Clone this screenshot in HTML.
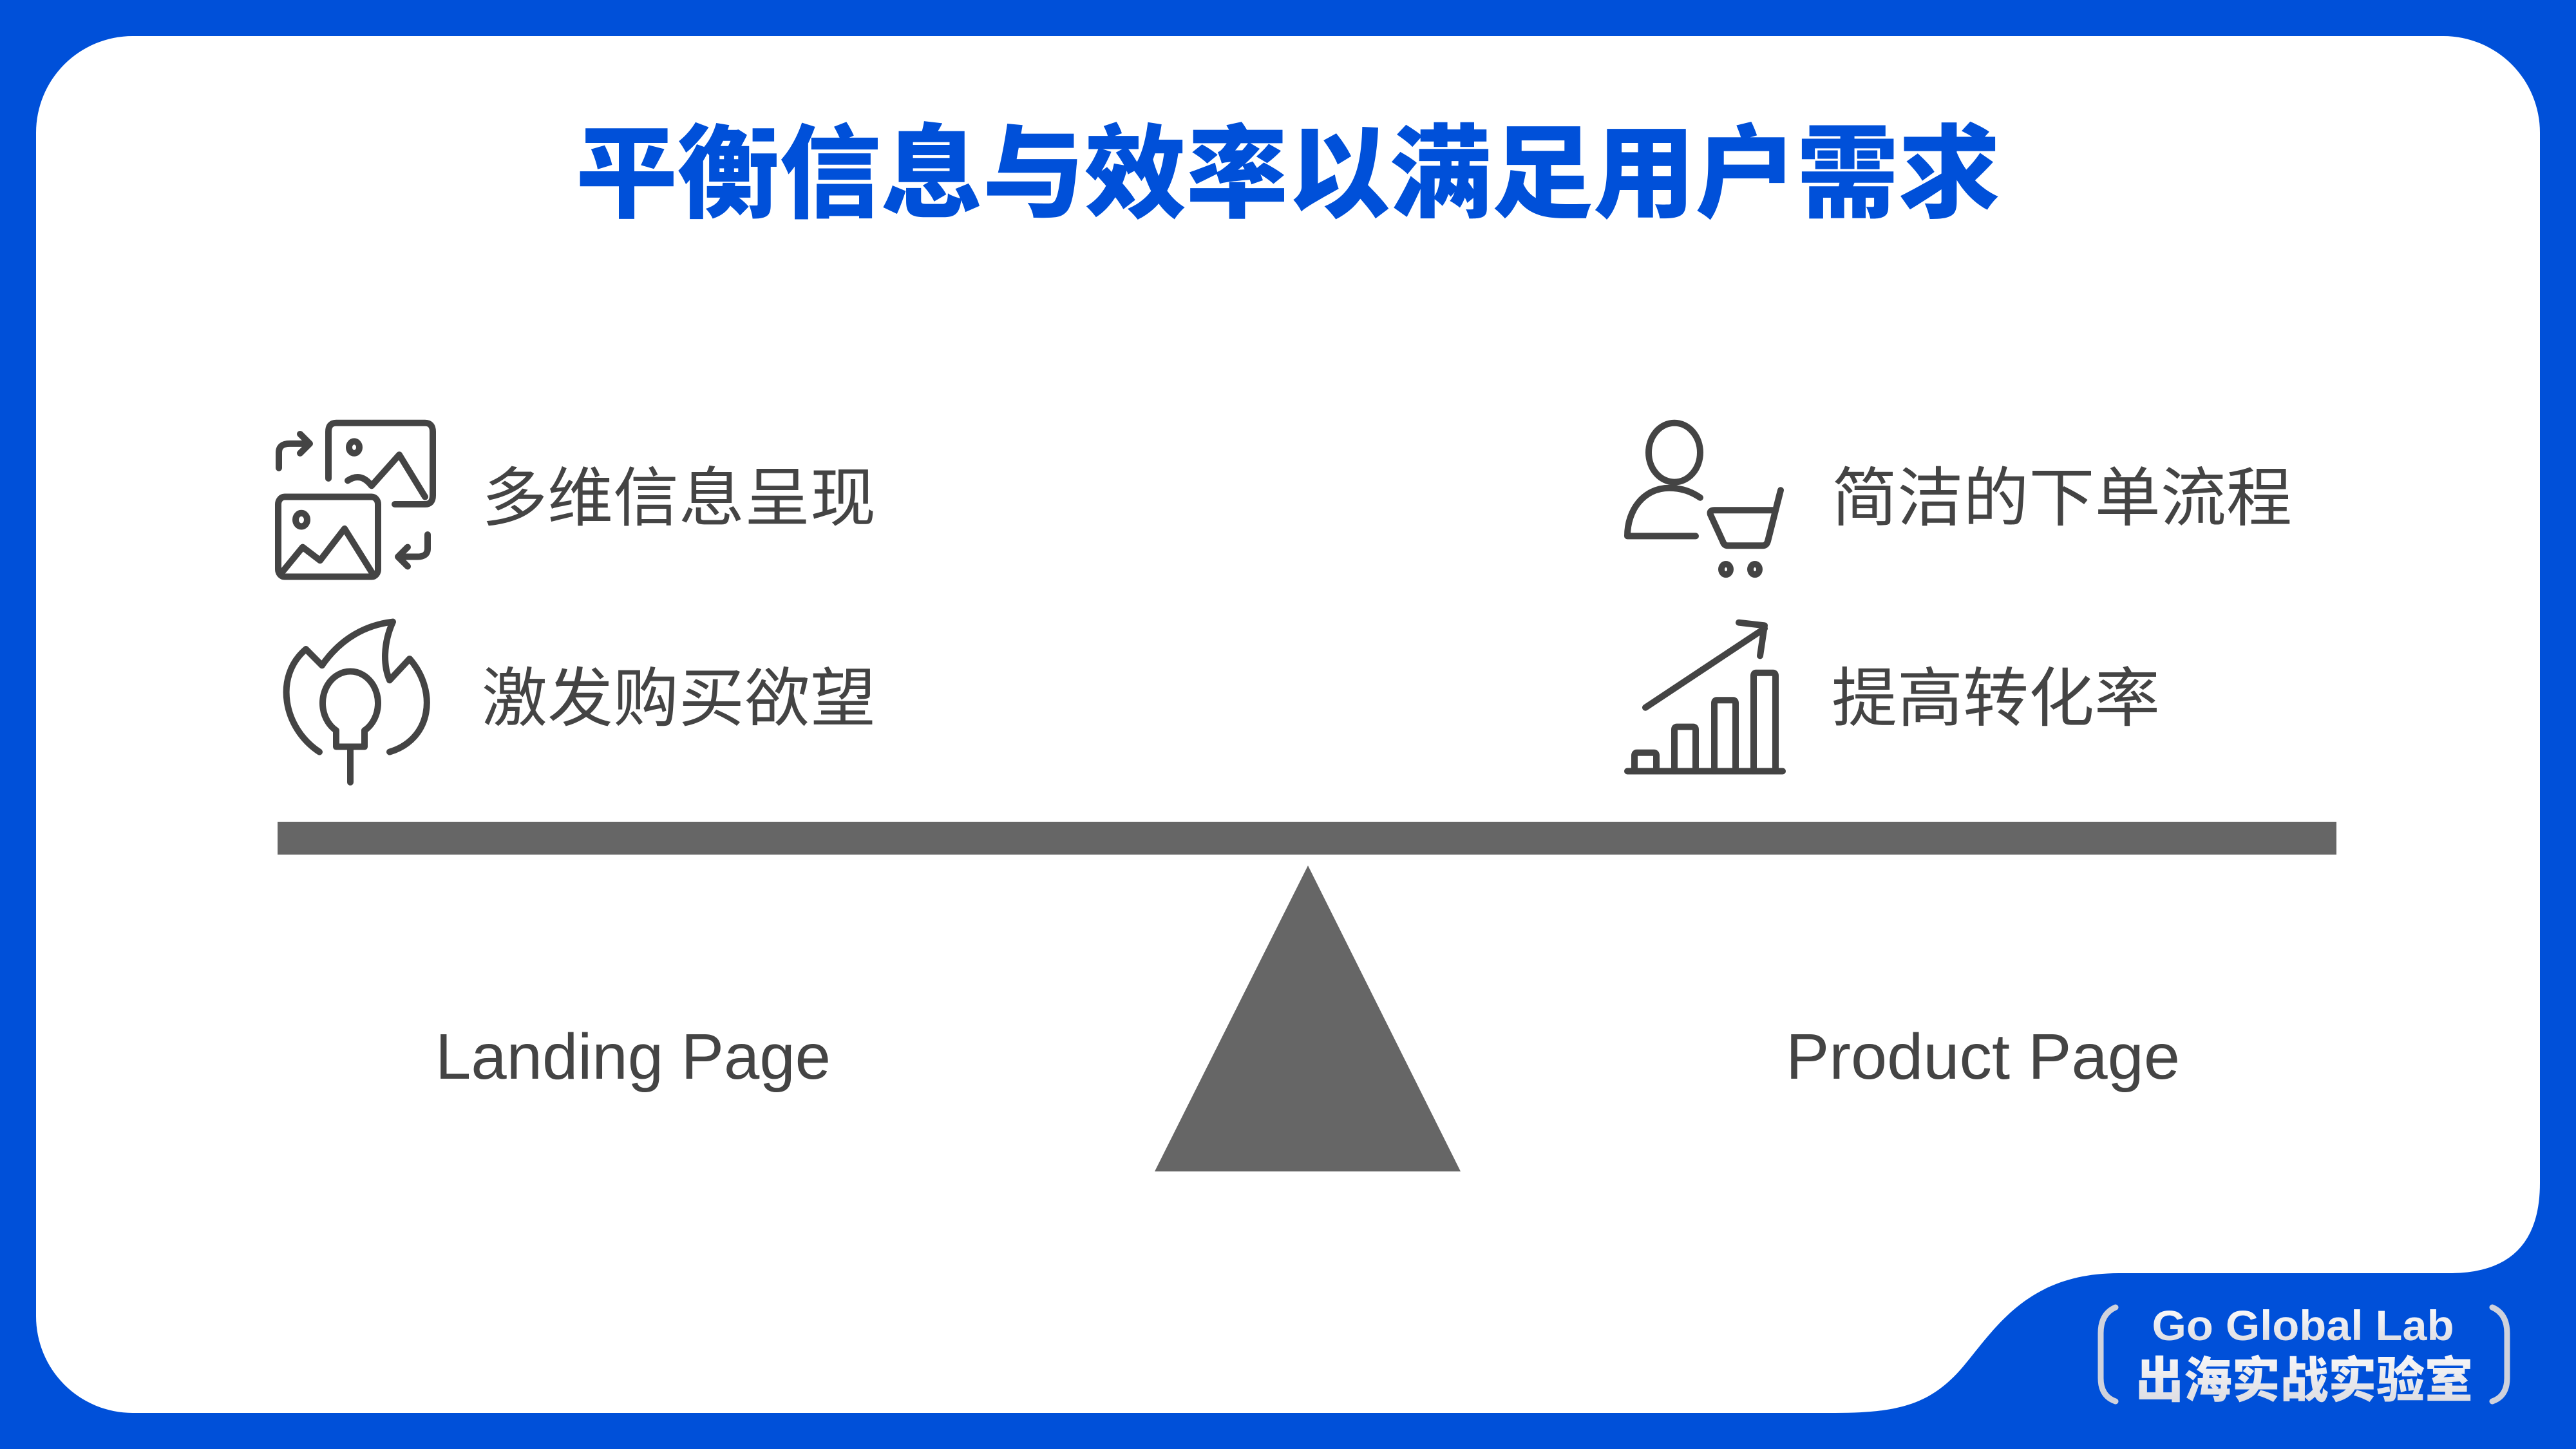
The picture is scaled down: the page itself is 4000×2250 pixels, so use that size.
<!DOCTYPE html>
<html><head><meta charset="utf-8"><style>html,body{margin:0;padding:0;background:#0050d9;}svg{display:block}</style></head>
<body>
<svg width="4000" height="2250" viewBox="0 0 4000 2250" xmlns="http://www.w3.org/2000/svg">
<defs>
<linearGradient id="lg" x1="0" y1="0" x2="0" y2="1"><stop offset="0" stop-color="#ffffff"/><stop offset="1" stop-color="#d8d8de"/></linearGradient>
</defs>
<rect x="0" y="0" width="4000" height="2250" fill="#0050d9"/>
<rect x="56" y="56" width="3888" height="2138" rx="150" ry="150" fill="#ffffff"/>
<path d="M2850 2194 C2950 2194 3000 2180 3050 2120 C3100 2060 3150 1977 3290 1977 L3804 1977 Q3944 1977 3944 1837 L3944 2250 L2850 2250 Z" fill="#0050d9"/>

<text x="2000" y="325" text-anchor="middle" font-family="Noto Sans CJK SC, sans-serif" font-weight="900" font-size="158" fill="#0050d9" textLength="2212" lengthAdjust="spacingAndGlyphs">平衡信息与效率以满足用户需求</text>

<g font-family="Liberation Sans, Noto Sans CJK SC, sans-serif" font-size="100" fill="#444">
<text x="748" y="808" textLength="612" lengthAdjust="spacingAndGlyphs">多维信息呈现</text>
<text x="748" y="1119" textLength="612" lengthAdjust="spacingAndGlyphs">激发购买欲望</text>
<text x="2844" y="808" textLength="715" lengthAdjust="spacingAndGlyphs">简洁的下单流程</text>
<text x="2844" y="1119" textLength="510" lengthAdjust="spacingAndGlyphs">提高转化率</text>
</g>

<g font-family="Liberation Sans, sans-serif" font-size="100" fill="#444">
<text x="676" y="1675" textLength="614" lengthAdjust="spacingAndGlyphs">Landing Page</text>
<text x="2773" y="1675" textLength="612" lengthAdjust="spacingAndGlyphs">Product Page</text>
</g>

<rect x="431" y="1276" width="3197" height="51" fill="#666"/>
<polygon points="2031,1344 2268,1819 1793,1819" fill="#666"/>

<g transform="translate(0,620) scale(1,1.148) translate(0,-620)">
<g fill="none" stroke="#444" stroke-width="10" stroke-linecap="round" stroke-linejoin="round" vector-effect="non-scaling-stroke">
<path vector-effect="non-scaling-stroke" d="M510 727 L510 664 Q510 652 522 652 L660 652 Q672 652 672 664 L672 750 Q672 762 660 762 L613 762"/>
<circle vector-effect="non-scaling-stroke" cx="550" cy="685" r="8"/>
<path vector-effect="non-scaling-stroke" d="M540 730 Q560 718 577 737 L620 695 L660 752"/>
<rect vector-effect="non-scaling-stroke" x="432" y="752" width="155" height="108" rx="10"/>
<circle vector-effect="non-scaling-stroke" cx="468" cy="783" r="9"/>
<path vector-effect="non-scaling-stroke" d="M437 855 L470 820 L497 838 L535 795 L578 855"/>
<path vector-effect="non-scaling-stroke" d="M433 713 L433 692 Q433 680 450 680 L480 680 M466 667 L481 680 L466 693"/>
<path vector-effect="non-scaling-stroke" d="M664 803 L664 822 Q664 833 648 833 L618 833 M633 820 L618 833 L633 846"/>
<path vector-effect="non-scaling-stroke" d="M496 1097 C440 1065 425 995 475 958 L500 980 C530 942 570 925 610 921 C595 950 595 980 605 1000 L636 971 C680 1015 670 1080 605 1097"/>
<path vector-effect="non-scaling-stroke" d="M522 1090 L522 1068 A43 43 0 1 1 566 1068 L566 1090 Z"/>
<path vector-effect="non-scaling-stroke" d="M544 1093 L544 1138"/>
<circle vector-effect="non-scaling-stroke" cx="2600" cy="692" r="40"/>
<path vector-effect="non-scaling-stroke" d="M2640 753 C2625 744 2608 740 2592 740 C2552 740 2527 770 2527 805 L2633 805"/>
<path vector-effect="non-scaling-stroke" d="M2765 743 L2745 812 Q2743 818 2737 818 L2683 818 Q2677 818 2675 812 L2656 776 Q2654 770 2662 770 L2755 770"/>
<circle vector-effect="non-scaling-stroke" cx="2680" cy="850" r="7"/>
<circle vector-effect="non-scaling-stroke" cx="2725" cy="850" r="7"/>
<path vector-effect="non-scaling-stroke" d="M2527 1123 L2768 1123"/>
<path vector-effect="non-scaling-stroke" d="M2538 1123 L2538 1102 Q2538 1098 2542 1098 L2568 1098 Q2572 1098 2572 1102 L2572 1123"/>
<path vector-effect="non-scaling-stroke" d="M2600 1123 L2600 1067 Q2600 1063 2604 1063 L2629 1063 Q2633 1063 2633 1067 L2633 1123"/>
<path vector-effect="non-scaling-stroke" d="M2662 1123 L2662 1031 Q2662 1027 2666 1027 L2691 1027 Q2695 1027 2695 1031 L2695 1123"/>
<path vector-effect="non-scaling-stroke" d="M2723 1123 L2723 994 Q2723 990 2727 990 L2753 990 Q2757 990 2757 994 L2757 1123"/>
<path vector-effect="non-scaling-stroke" d="M2555 1037 L2740 930 M2700 922 L2740 926 L2733 967"/>
</g>
</g>

<g fill="none" stroke="#cfd2dc" stroke-width="9" stroke-linecap="round">
<path d="M3285 2030 Q3262 2040 3262 2070 L3262 2140 Q3262 2168 3285 2176"/>
<path d="M3870 2030 Q3893 2040 3893 2070 L3893 2140 Q3893 2168 3870 2176"/>
</g>
<text x="3576" y="2081" text-anchor="middle" font-family="Liberation Sans, sans-serif" font-weight="bold" font-size="66" fill="url(#lg)" textLength="469" lengthAdjust="spacingAndGlyphs">Go Global Lab</text>
<text x="3578" y="2170" text-anchor="middle" font-family="Noto Sans CJK SC, sans-serif" font-weight="900" font-size="76" fill="url(#lg)" textLength="524" lengthAdjust="spacingAndGlyphs">出海实战实验室</text>
</svg>
</body></html>
